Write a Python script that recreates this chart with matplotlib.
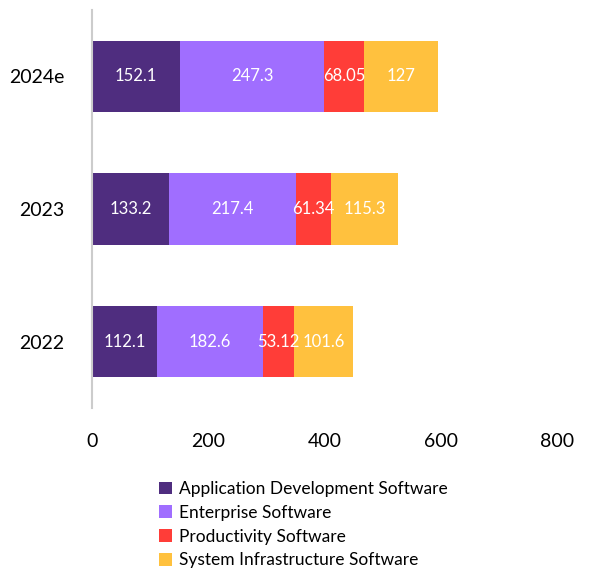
import matplotlib
matplotlib.use("Agg")
import matplotlib.pyplot as plt
import numpy as np

years = ["2022", "2023", "2024e"]
series = ["Application Development Software", "Enterprise Software",
          "Productivity Software", "System Infrastructure Software"]
app_dev = [112.1, 133.2, 152.1]
enterprise = [182.6, 217.4, 247.3]
productivity = [53.12, 61.34, 68.05]
system_infra = [101.6, 115.3, 127]
labels = [["112.1", "133.2", "152.1"], ["182.6", "217.4", "247.3"],
          ["53.12", "61.34", "68.05"], ["101.6", "115.3", "127"]]

COLORS = ["#4F2D7F", "#A06EFF", "#FF3D38", "#FFC13E"]
plt.rcParams.update({"font.family": ["Lato", "DejaVu Sans"]})

fig = plt.figure(figsize=(5.9, 5.71), dpi=100)
ax = fig.add_axes([92 / 590, 1 - 408 / 571, 465 / 590, 398 / 571])

y = np.arange(len(years))
left = np.zeros(len(years))
for vals, name, col, labs in zip([app_dev, enterprise, productivity, system_infra], series, COLORS, labels):
    bars = ax.barh(y, vals, left=left, height=0.54, color=col, label=name)
    for b, lab in zip(bars, labs):
        ax.text(b.get_x() + b.get_width() / 2, b.get_y() + b.get_height() / 2, lab,
                ha="center", va="center", color="white", fontsize=12)
    left += np.array(vals)

ax.set_xlim(0, 800)
ax.set_ylim(-0.5, 2.5)
ax.set_xticks([0, 200, 400, 600, 800])
ax.set_yticks(y)
ax.set_yticklabels(years)
ax.tick_params(axis="both", length=0, labelsize=14, colors="black")
ax.tick_params(axis="x", pad=18)
ax.tick_params(axis="y", pad=20)
for s in ["top", "right", "bottom"]:
    ax.spines[s].set_visible(False)
ax.spines["left"].set_color("#CCCCCC")
ax.spines["left"].set_linewidth(1.5)

fig.legend(loc="upper left", bbox_to_anchor=(152 / 590, 1 - 474 / 571), frameon=False,
           fontsize=12.5, handlelength=0.75, handleheight=0.75, handletextpad=0.4,
           labelspacing=0.45, borderaxespad=0)

fig.savefig("out.png", dpi=100)
